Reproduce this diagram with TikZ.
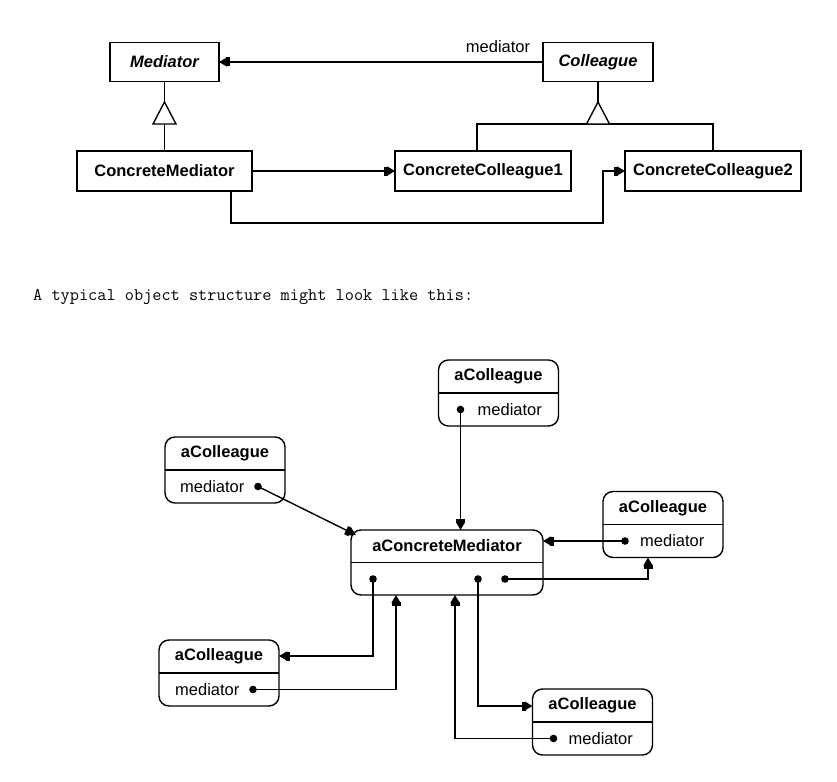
\documentclass[tikz,border=0pt]{standalone}
\usepackage{fontspec}
\setmainfont{Liberation Sans}
\usetikzlibrary{arrows.meta}
\tikzset{
  cls/.style={draw, line width=1.4pt, inner sep=0pt, outer sep=0pt, minimum height=39pt, font=\fontsize{16.5}{19}\selectfont\bfseries},
  obj/.style={draw, line width=1.4pt, rounded corners=10pt, inner sep=0pt, outer sep=0pt, minimum width=120pt, minimum height=66pt},
  ttl/.style={font=\fontsize{16.5}{19}\selectfont\bfseries, inner sep=0pt},
  lbl/.style={font=\fontsize{16.5}{19}\selectfont, inner sep=0pt},
  conn/.style={line width=1.4pt},
  arr/.style={conn, -{Rectangle[length=4pt,width=9pt,sep=-1pt]Triangle[length=8pt,width=9pt]}},
  inh/.style={line width=1.4pt, fill=white},
  dotm/.style={fill=black},
}
\begin{document}
\begin{tikzpicture}[x=1pt,y=-1pt]
\useasboundingbox (0,0) rectangle (837,781);

% ---------- class diagram ----------
\node[cls, minimum width=109pt] (med) at (164.5,62) {\itshape Mediator};
\node[cls, minimum width=110pt] (col) at (598,62) {\itshape Colleague};
\node[cls, minimum width=175pt, minimum height=40pt] (cm) at (164.5,171) {ConcreteMediator};
\node[cls, minimum width=176pt, minimum height=40pt] (cc1) at (483,171) {ConcreteColleague1};
\node[cls, minimum width=176pt, minimum height=40pt] (cc2) at (713,171) {ConcreteColleague2};

\draw[arr] (col.west) -- (med.east);
\node[lbl] (medlbl) at (498,47) {mediator};

% inheritance Mediator
\coordinate (t1) at (164.5,102);
\coordinate (t1b) at (164.5,124);
\draw[conn] (med.south) -- (t1);
\draw[conn] (t1b) -- (cm.north);
\draw[inh] (t1) -- ++(11.5,22) -- ++(-23,0) -- cycle;

% inheritance Colleague
\coordinate (t2) at (598,102);
\coordinate (bl) at (477,124);
\coordinate (br) at (713,124);
\draw[conn] (col.south) -- (t2);
\draw[conn] (bl |- cc1.north) -- (bl) -- (br) -- (cc2.north);
\draw[inh] (t2) -- ++(11.5,22) -- ++(-23,0) -- cycle;

\draw[arr] (cm.east) -- (cc1.west);
\coordinate (cmb) at (231,223);
\coordinate (cc2c) at (603,223);
\draw[arr] (cmb |- cm.south) -- (cmb) -- (cc2c) |- (cc2.west);

% ---------- text line ----------
\node[anchor=west, inner sep=0pt, font=\ttfamily\fontsize{17.8}{20}\selectfont] (txt) at (33,297) {A typical object structure might look like this:};

% ---------- object diagram ----------
\node[obj] (c1) at (498.5,393) {};
\node[obj] (c2) at (225,470) {};
\node[obj] (c3) at (663,524.5) {};
\node[obj] (c4) at (219,673) {};
\node[obj] (c5) at (592.5,722) {};
\node[obj, minimum width=192pt, minimum height=65pt] (m) at (447,562.5) {};

\foreach \n in {c1,c2,c3,c4,c5,m}{
  \draw[conn] (\n.west) -- (\n.east);
}
\node[ttl] (c1t) at ([yshift=16.5pt]c1.center) {aColleague};
\node[ttl] (c2t) at ([yshift=16.5pt]c2.center) {aColleague};
\node[ttl] (c3t) at ([yshift=16.5pt]c3.center) {aColleague};
\node[ttl] (c4t) at ([yshift=16.5pt]c4.center) {aColleague};
\node[ttl] (c5t) at ([yshift=16.5pt]c5.center) {aColleague};
\node[ttl] (mt) at ([yshift=16.5pt]m.center) {aConcreteMediator};

\node[lbl, anchor=west] (c1m) at ([xshift=39pt,yshift=-16.5pt]c1.west) {mediator};
\node[lbl, anchor=west] (c2m) at ([xshift=15pt,yshift=-16.5pt]c2.west) {mediator};
\node[lbl, anchor=west] (c3m) at ([xshift=37pt,yshift=-16.5pt]c3.west) {mediator};
\node[lbl, anchor=west] (c4m) at ([xshift=16pt,yshift=-16.5pt]c4.west) {mediator};
\node[lbl, anchor=west] (c5m) at ([xshift=36pt,yshift=-16.5pt]c5.west) {mediator};

\coordinate (d1) at ([xshift=22pt,yshift=-16.5pt]c1.west);
\coordinate (d2) at ([xshift=93pt,yshift=-16.5pt]c2.west);
\coordinate (d3) at ([xshift=22pt,yshift=-16.5pt]c3.west);
\coordinate (d4) at ([xshift=94pt,yshift=-16.5pt]c4.west);
\coordinate (d5) at ([xshift=21pt,yshift=-16.5pt]c5.west);
\coordinate (md1) at ([xshift=22pt,yshift=-16.5pt]m.west);
\coordinate (md2) at ([xshift=127pt,yshift=-16.5pt]m.west);
\coordinate (md3) at ([xshift=154pt,yshift=-16.5pt]m.west);

\draw[arr] (d1) -- (d1 |- m.north);
\draw[arr] (d2) -- ([xshift=5pt,yshift=-5pt]m.north west);
\draw[arr] (d3) -- (d3 -| m.east);
\draw[arr] (md3) -| ([xshift=-15pt]c3.south);
\draw[arr] (md1) |- ([yshift=17pt]c4.east);
\draw[arr] (d4) -| ([xshift=-51pt]m.south);
\draw[arr] (md2) |- ([yshift=16pt]c5.west);
\draw[arr] (d5) -| ([xshift=8pt]m.south);

\foreach \p in {d1,d2,d3,d4,d5,md1,md2,md3}{
  \fill[dotm] (\p) circle (3.8pt);
}
\end{tikzpicture}
\end{document}
